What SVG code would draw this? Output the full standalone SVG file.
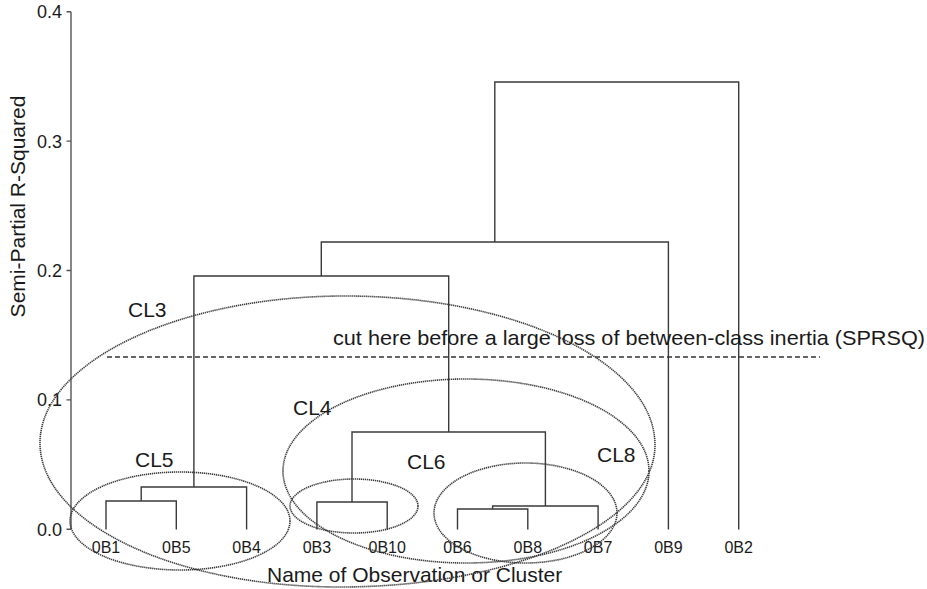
<svg xmlns="http://www.w3.org/2000/svg" width="927" height="589" viewBox="0 0 927 589">
  <style>
    .bg { fill: #ffffff; }
    .axis { stroke: #555; stroke-width: 1.4; fill: none; }
    .link { stroke: #3a3a3a; stroke-width: 1.4; fill: none; stroke-linejoin: miter; }
    .hull { stroke: #3c3c3c; stroke-width: 1.6; fill: none; stroke-dasharray: 1.3 0.7; }
    .cut { stroke: #333; stroke-width: 1.3; stroke-dasharray: 5 3; fill: none; }
    text { font-family: "Liberation Sans", Arial, Helvetica, sans-serif; fill: #1a1a1a; }
    .tick { font-size: 18px; text-anchor: end; }
    .leaf { font-size: 16px; text-anchor: middle; }
    .cl { font-size: 21px; }
    .title { font-size: 21px; }
    .note { font-size: 21px; }
  </style>

  <rect class="bg" x="0" y="0" width="927" height="589"/>

  <!-- vertical axis: semi-partial R-squared, 0.0 at y=529.3, 0.1 per 129.4 px -->
  <g id="y-axis">
    <path class="axis" d="M71,11.7 V529.3 M66.5,11.7 H71 M66.5,141.1 H71 M66.5,270.5 H71 M66.5,399.9 H71 M66.5,529.3 H71"/>
    <text class="tick" x="62" y="18.2">0.4</text>
    <text class="tick" x="62" y="147.6">0.3</text>
    <text class="tick" x="62" y="277">0.2</text>
    <text class="tick" x="62" y="406.4">0.1</text>
    <text class="tick" x="62" y="535.8">0.0</text>
    <text class="title" transform="translate(25,206.5) rotate(-90)" text-anchor="middle">Semi-Partial R-Squared</text>
  </g>

  <text class="title" x="267" y="582">Name of Observation or Cluster</text>

  <!-- dendrogram merges -->
  <g id="links">
    <path class="link" d="M106,529.5 V501 H176.3 V529.5"/>
    <path class="link" d="M141.2,501 V487 H246.6 V529.5"/>
    <path class="link" d="M316.9,529.5 V502 H387.2 V529.5"/>
    <path class="link" d="M457.5,529.5 V509 H527.8 V529.5"/>
    <path class="link" d="M492.6,509 V506 H598.1 V529.5"/>
    <path class="link" d="M352,502 V432 H545.4 V506"/>
    <path class="link" d="M193.9,487 V276 H448.7 V432"/>
    <path class="link" d="M321.3,276 V242 H668.4 V529.5"/>
    <path class="link" d="M494.8,242 V82 H738.7 V529.5"/>
  </g>

  <!-- leaves -->
  <g id="leaf-0B1"><text class="leaf" x="106" y="553">0B1</text></g>
  <g id="leaf-0B5"><text class="leaf" x="176.3" y="553">0B5</text></g>
  <g id="leaf-0B4"><text class="leaf" x="246.6" y="553">0B4</text></g>
  <g id="leaf-0B3"><text class="leaf" x="316.9" y="553">0B3</text></g>
  <g id="leaf-0B10"><text class="leaf" x="387.2" y="553">0B10</text></g>
  <g id="leaf-0B6"><text class="leaf" x="457.5" y="553">0B6</text></g>
  <g id="leaf-0B8"><text class="leaf" x="527.8" y="553">0B8</text></g>
  <g id="leaf-0B7"><text class="leaf" x="598.1" y="553">0B7</text></g>
  <g id="leaf-0B9"><text class="leaf" x="668.4" y="553">0B9</text></g>
  <g id="leaf-0B2"><text class="leaf" x="738.7" y="553">0B2</text></g>

  <!-- cut level -->
  <g id="cut-line">
    <path class="cut" d="M107,357 H820"/>
    <text class="note" x="333" y="345" textLength="592" lengthAdjust="spacingAndGlyphs">cut here before a large loss of between-class inertia (SPRSQ)</text>
  </g>

  <!-- cluster hulls -->
  <g id="cluster-CL3">
    <path class="hull" d="M40,443 C40,362 179,296 345,296 C516,296 655,363 655,445 C655,523 514,587 340,587 C174,587 40,522.5 40,443 Z"/>
    <text class="cl" x="128" y="317">CL3</text>
  </g>
  <g id="cluster-CL4">
    <ellipse class="hull" cx="466" cy="471" rx="183" ry="92"/>
    <text class="cl" x="293" y="415">CL4</text>
  </g>
  <g id="cluster-CL5">
    <ellipse class="hull" cx="180" cy="521" rx="110" ry="49"/>
    <text class="cl" x="135" y="467">CL5</text>
  </g>
  <g id="cluster-CL6">
    <ellipse class="hull" cx="354" cy="506" rx="64" ry="27"/>
    <text class="cl" x="407" y="469">CL6</text>
  </g>
  <g id="cluster-CL8">
    <ellipse class="hull" cx="525.5" cy="513" rx="91.5" ry="50"/>
    <text class="cl" x="597" y="462">CL8</text>
  </g>
</svg>
